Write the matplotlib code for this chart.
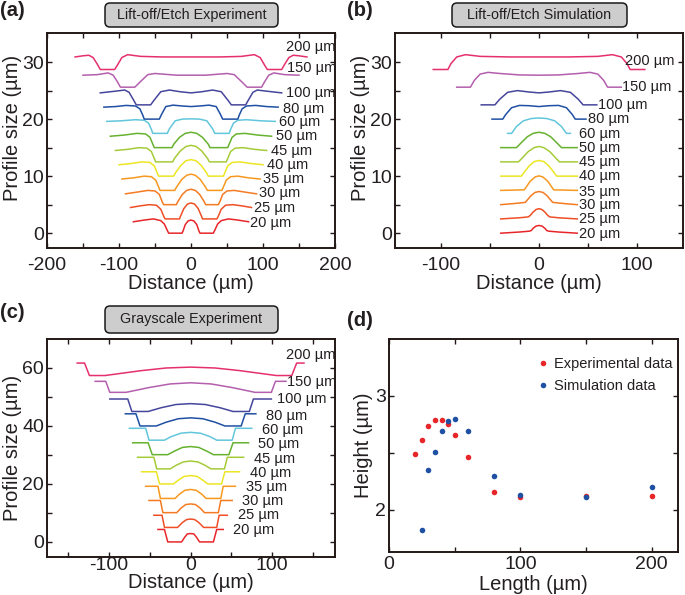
import numpy as np
import matplotlib
matplotlib.use('Agg')
import matplotlib.pyplot as plt
from matplotlib.patches import FancyBboxPatch

plt.rcParams['font.family'] = ['Liberation Sans', 'DejaVu Sans']

# ---------------- data ----------------
lengths = ['20', '25', '30', '35', '40', '45', '50', '60', '80', '100', '150', '200']
colors = ['#e8262a', '#ef4f26', '#f47b22', '#f7981f', '#ece624', '#a6cb39',
          '#66b22f', '#62c6dc', '#1f50a3', '#45469c', '#b45fad', '#e6306b']

# Panel (a): Lift-off/Etch experiment, half profiles (x >= 0), symmetric
a20_x = [0, 4, 8, 11, 12.5, 31, 33, 37, 42, 52, 65, 80]
a20_y = [2.3, 2.15, 1.5, 0.4, 0, 0, 0.5, 1.6, 2.2, 2.5, 2.3, 2.0]
a25_x = [0, 5, 10, 14.5, 16, 36, 38, 42, 48, 58, 70, 84]
a25_y = [5.3, 5.1, 4.3, 3.0, 2.5, 2.5, 3.0, 4.2, 4.9, 5.0, 4.8, 4.5]
a30_x = [0, 6, 12, 18, 20.4, 38, 40, 44, 50, 60, 75, 91]
a30_y = [7.7, 7.5, 6.8, 5.6, 5.0, 5.0, 5.5, 6.8, 7.4, 7.5, 7.2, 6.9]
a35_x = [0, 6, 13, 20, 22.7, 43, 45, 49, 55, 65, 80, 96]
a35_y = [10.35, 10.15, 9.4, 8.1, 7.5, 7.5, 8.1, 9.3, 9.9, 10.0, 9.7, 9.5]
a40_x = [0, 7, 14, 21.5, 24, 45, 47, 51, 57, 68, 84, 100]
a40_y = [12.9, 12.7, 11.9, 10.6, 10, 10, 10.6, 11.8, 12.4, 12.5, 12.2, 12.0]
a45_x = [0, 7, 15, 23, 25.5, 49, 51, 55, 61, 72, 88, 105]
a45_y = [15.4, 15.2, 14.4, 13.1, 12.5, 12.5, 13.1, 14.3, 14.9, 15.0, 14.7, 14.5]
a50_x = [0, 8, 16, 24, 26.4, 51, 53, 57, 63, 75, 93, 112]
a50_y = [17.7, 17.5, 16.8, 15.6, 15, 15, 15.6, 16.8, 17.4, 17.5, 17.2, 17.0]
a60_x = [0, 12, 22, 30, 33, 53, 55, 59, 65, 77, 97, 117]
a60_y = [20.05, 20.0, 19.7, 18.3, 17.5, 17.5, 18.2, 19.3, 19.8, 19.9, 19.7, 19.6]
a80_x = [0, 12, 25, 35, 41, 44, 65, 67, 71, 77, 90, 105, 121]
a80_y = [22.2, 22.3, 22.45, 22.2, 20.8, 20, 20, 20.7, 21.8, 22.3, 22.4, 22.2, 22.1]
a100_x = [0, 15, 30, 42, 52, 56, 76, 80, 86, 92, 105, 126]
a100_y = [24.6, 24.8, 25.1, 24.8, 23.2, 22.5, 22.5, 23.4, 24.7, 25.1, 24.9, 24.6]
a150_x = [0, 20, 40, 50, 60, 70, 78, 98, 102, 108, 115, 130, 150]
a150_y = [27.7, 27.7, 27.9, 28.0, 27.8, 26.6, 25.6, 25.6, 26.5, 27.7, 28.1, 27.8, 27.7]
a200_x = [0, 40, 70, 88, 96, 103, 106, 126, 130, 136, 142, 150, 161]
a200_y = [30.9, 30.9, 31.0, 31.3, 30.8, 29.3, 28.7, 28.7, 29.6, 30.8, 31.2, 31.1, 30.9]

# Panel (b): Lift-off/Etch simulation, half profiles
b20_x = [0, 3, 6, 8, 10, 20, 39]
b20_y = [1.35, 1.25, 0.85, 0.45, 0.35, 0.2, 0.0]
b25_x = [0, 3, 6, 9, 11, 20, 39]
b25_y = [4.3, 4.15, 3.7, 3.1, 2.85, 2.7, 2.5]
b30_x = [0, 4, 8, 12, 14, 25, 39]
b30_y = [7.3, 7.15, 6.6, 5.8, 5.4, 5.2, 5.0]
b35_x = [0, 4, 9, 13, 15, 39]
b35_y = [10.05, 9.85, 9.1, 8.1, 7.6, 7.5]
b40_x = [0, 5, 10, 15, 18, 39]
b40_y = [12.75, 12.55, 11.8, 10.7, 10.0, 10.0]
b45_x = [0, 5, 11, 17, 21, 39]
b45_y = [15.2, 15.0, 14.3, 13.2, 12.5, 12.5]
b50_x = [0, 6, 12, 19, 23, 39]
b50_y = [17.7, 17.5, 16.9, 15.7, 15.0, 15.0]
b60_x = [0, 8, 16, 23, 28, 32]
b60_y = [20.2, 20.1, 19.7, 18.7, 17.5, 17.5]
b80_x = [0, 10, 20, 28, 34, 37, 48]
b80_y = [22.2, 22.35, 22.4, 22.0, 20.8, 20.0, 20.0]
b100_x = [0, 10, 22, 32, 40, 45, 59]
b100_y = [24.6, 24.75, 25.0, 24.7, 23.5, 22.5, 22.5]
b150_x = [0, 20, 40, 52, 60, 66, 70, 84]
b150_y = [27.7, 27.75, 28.0, 28.2, 27.9, 26.8, 25.6, 25.6]
b200_x = [0, 30, 60, 75, 84, 90, 93, 108]
b200_y = [30.9, 30.9, 31.0, 31.3, 30.9, 29.7, 28.7, 28.7]

# Panel (c): Grayscale experiment, half profiles
c20_x = [0, 4, 7, 11, 28, 32, 40]
c20_y = [2.9, 2.75, 1.7, 0, 0, 4.3, 4.3]
c25_x = [0, 5, 10, 16, 32, 35, 45]
c25_y = [7.9, 7.7, 6.7, 5.0, 5.0, 9.2, 9.2]
c30_x = [0, 6, 12, 17, 34, 37, 51]
c30_y = [13.1, 12.9, 11.6, 10.1, 10.1, 14.3, 14.3]
c35_x = [0, 7, 14, 19, 37, 40, 55]
c35_y = [18.1, 17.8, 16.4, 15.0, 15.0, 19.2, 19.2]
c40_x = [0, 8, 15, 21, 38, 42, 60]
c40_y = [22.9, 22.6, 21.3, 20.0, 20.0, 24.2, 24.2]
c45_x = [0, 9, 18, 25, 41.5, 45, 65]
c45_y = [27.9, 27.6, 26.4, 25.2, 25.2, 29.2, 29.2]
c50_x = [0, 10, 20, 28, 47, 52, 71]
c50_y = [32.9, 32.6, 31.3, 30.1, 30.1, 34.2, 34.2]
c60_x = [0, 12, 24, 32, 51, 55, 75]
c60_y = [37.8, 37.5, 36.3, 35.1, 35.1, 39.2, 39.2]
c80_x = [0, 15, 30, 42, 62, 67, 80]
c80_y = [42.8, 42.5, 41.3, 40.0, 40.0, 44.2, 44.2]
c100_x = [0, 18, 36, 52, 72, 77, 99]
c100_y = [47.7, 47.4, 46.3, 45.0, 45.0, 49.3, 49.3]
c150_x = [0, 25, 50, 79, 99, 104, 117]
c150_y = [54.9, 54.5, 53.3, 51.6, 51.6, 55.4, 55.4]
c200_x = [0, 30, 60, 105, 124, 130, 139]
c200_y = [60.3, 60.0, 59.1, 57.4, 57.4, 61.7, 61.7]

# Panel (d): height vs length
d_len_exp = [20, 25, 30, 35, 40, 45, 50, 60, 80, 100, 150, 200]
d_h_exp = [2.49, 2.61, 2.74, 2.79, 2.79, 2.75, 2.66, 2.46, 2.16, 2.11, 2.12, 2.12]
d_len_sim = [25, 30, 35, 40, 45, 50, 60, 80, 100, 150, 200]
d_h_sim = [1.82, 2.35, 2.51, 2.69, 2.78, 2.80, 2.69, 2.30, 2.13, 2.11, 2.20]

# curve label anchors (data coords)
a_lab_x = [82, 88, 94, 100, 105, 111, 118, 122, 128, 132, 133, 132]
a_lab_y = [1.8, 4.4, 7.1, 9.5, 12.0, 14.4, 17.0, 19.5, 21.8, 24.6, 28.9, 32.7]
b_lab_x = [41, 41, 41, 41, 41, 41, 41, 41, 50, 60, 85, 88]
b_lab_y = [-0.2, 2.5, 5.0, 7.2, 10.0, 12.5, 15.0, 17.4, 20.0, 22.5, 25.6, 30.2]
c_lab_x = [52, 57.5, 62.4, 67.7, 72.6, 77.5, 82.8, 87.7, 93, 106, 118.5, 117.5]
c_lab_y = [4.0, 9.3, 14.2, 19.1, 23.9, 28.7, 33.7, 38.6, 43.6, 49.3, 55.0, 64.6]

a_x = [a20_x, a25_x, a30_x, a35_x, a40_x, a45_x, a50_x, a60_x, a80_x, a100_x, a150_x, a200_x]
a_y = [a20_y, a25_y, a30_y, a35_y, a40_y, a45_y, a50_y, a60_y, a80_y, a100_y, a150_y, a200_y]
b_x = [b20_x, b25_x, b30_x, b35_x, b40_x, b45_x, b50_x, b60_x, b80_x, b100_x, b150_x, b200_x]
b_y = [b20_y, b25_y, b30_y, b35_y, b40_y, b45_y, b50_y, b60_y, b80_y, b100_y, b150_y, b200_y]
c_x = [c20_x, c25_x, c30_x, c35_x, c40_x, c45_x, c50_x, c60_x, c80_x, c100_x, c150_x, c200_x]
c_y = [c20_y, c25_y, c30_y, c35_y, c40_y, c45_y, c50_y, c60_y, c80_y, c100_y, c150_y, c200_y]

# ---------------- style ----------------
W, H = 685, 595
fig = plt.figure(figsize=(W / 100, H / 100), dpi=100)
TXT = '#231f20'
SPINE = '#231815'
TICK_FS = 14
LAB_FS = 14.5
CURVE_FS = 10.5


def px_axes(l, t, r, b):
    return fig.add_axes([l / W, 1 - b / H, (r - l) / W, (b - t) / H])


def style(ax, xpad=3, ypad=2):
    for s in ax.spines.values():
        s.set_linewidth(1.4)
        s.set_color(SPINE)
    ax.tick_params(which='both', direction='in', top=True, right=True,
                   length=3.8, width=1.0, color=SPINE, labelsize=TICK_FS,
                   labelcolor=TXT)
    ax.tick_params(axis='x', pad=xpad)
    ax.tick_params(axis='y', pad=ypad)


def mirror(hx, hy):
    hx = np.asarray(hx, float)
    hy = np.asarray(hy, float)
    return (np.concatenate([-hx[::-1], hx[1:]]),
            np.concatenate([hy[::-1], hy[1:]]))


def profile_panel(ax, xs, ys, labx, laby):
    for hx, hy, col, ln, lx, ly in zip(xs, ys, colors, lengths, labx, laby):
        x, y = mirror(hx, hy)
        ax.plot(x, y, color=col, lw=1.1, solid_joinstyle='round')
        ax.text(lx, ly, f'{ln} µm', fontsize=CURVE_FS, color=TXT,
                ha='left', va='center')


def ticks(ax, major, labeled):
    ax.set_xticks(major)
    ax.set_xticklabels([str(v) if v in labeled else '' for v in major])


def title_box(cx, cy, w, h, text):
    box = FancyBboxPatch(((cx - w / 2) / 100, (H - cy - h / 2) / 100), w / 100, h / 100,
                         boxstyle='round,pad=0,rounding_size=0.05',
                         transform=fig.dpi_scale_trans, fc='#cdcdcd', ec='#1a1a1a', lw=1.1)
    fig.add_artist(box)
    fig.text(cx / W, 1 - cy / H, text, ha='center', va='center', fontsize=10.4, color=TXT)


# ---------------- panel (a) ----------------
ax = px_axes(47, 33, 335, 248)
profile_panel(ax, a_x, a_y, a_lab_x, a_lab_y)
ax.set_xlim(-200, 200)
ax.set_ylim(-2.6, 35.1)
ticks(ax, [-200, -150, -100, -50, 0, 50, 100, 150, 200], [-200, -100, 0, 100, 200])
ax.set_yticks(np.arange(0, 35, 5))
ax.set_yticklabels(['0', '', '10', '', '20', '', '30'])
ax.set_xlabel('Distance (µm)', fontsize=LAB_FS, color=TXT, labelpad=-0.3)
ax.set_ylabel('Profile size (µm)', fontsize=LAB_FS, color=TXT, labelpad=0)
ax.yaxis.label.set_y(0.558)
style(ax, xpad=6.5)

# ---------------- panel (b) ----------------
ax = px_axes(395, 33, 683, 248)
profile_panel(ax, b_x, b_y, b_lab_x, b_lab_y)
ax.set_xlim(-147, 147)
ax.set_ylim(-2.6, 35.1)
ticks(ax, [-100, -50, 0, 50, 100], [-100, 0, 100])
ax.set_yticks(np.arange(0, 35, 5))
ax.set_yticklabels(['0', '', '10', '', '20', '', '30'])
ax.set_xlabel('Distance (µm)', fontsize=LAB_FS, color=TXT, labelpad=-0.3)
ax.set_ylabel('Profile size (µm)', fontsize=LAB_FS, color=TXT, labelpad=0.5)
ax.yaxis.label.set_y(0.558)
style(ax, xpad=6.5)

# ---------------- panel (c) ----------------
ax = px_axes(47, 339, 335, 557)
profile_panel(ax, c_x, c_y, c_lab_x, c_lab_y)
ax.set_xlim(-176, 177)
ax.set_ylim(-5.2, 70)
ticks(ax, [-150, -100, -50, 0, 50, 100, 150], [-100, 0, 100])
ax.set_yticks(np.arange(0, 70, 10))
ax.set_yticklabels(['0', '', '20', '', '40', '', '60'])
ax.set_xlabel('Distance (µm)', fontsize=LAB_FS, color=TXT, labelpad=-1)
ax.set_ylabel('Profile size (µm)', fontsize=LAB_FS, color=TXT, labelpad=0)
style(ax, xpad=0)

# ---------------- panel (d) ----------------
ax = px_axes(389, 339, 678, 552)
ax.plot(d_len_exp, d_h_exp, 'o', color='#e8262a', ms=4, mec='none', label='Experimental data')
ax.plot(d_len_sim, d_h_sim, 'o', color='#1f50a3', ms=4, mec='none', label='Simulation data')
ax.set_xlim(0, 220)
ax.set_ylim(1.63, 3.5)
ticks(ax, [0, 50, 100, 150, 200], [0, 100, 200])
ax.set_yticks([2, 2.5, 3])
ax.set_yticklabels(['2', '', '3'])
ax.set_xlabel('Length (µm)', fontsize=LAB_FS, color=TXT, labelpad=1)
ax.set_ylabel('Height (µm)', fontsize=LAB_FS, color=TXT, labelpad=2)
leg = ax.legend(loc='upper right', bbox_to_anchor=(1.015, 0.965), frameon=False,
                fontsize=10.5, handletextpad=0.1, handlelength=1.2,
                borderaxespad=0.3, labelspacing=0.55)
for t in leg.get_texts():
    t.set_color(TXT)
style(ax)

# ---------------- titles & panel letters ----------------
title_box(191.5, 15, 173, 24, 'Lift-off/Etch Experiment')
title_box(539.5, 15, 175, 24, 'Lift-off/Etch Simulation')
title_box(191.5, 319.5, 173, 27, 'Grayscale Experiment')

for lx, ly, s in [(0, 11, '(a)'), (347, 11, '(b)'), (0, 313, '(c)'), (347, 321, '(d)')]:
    fig.text(lx / W, 1 - ly / H, s, fontsize=14.5, fontweight='bold', color=TXT,
             ha='left', va='center')

fig.savefig('out.png', dpi=100)
